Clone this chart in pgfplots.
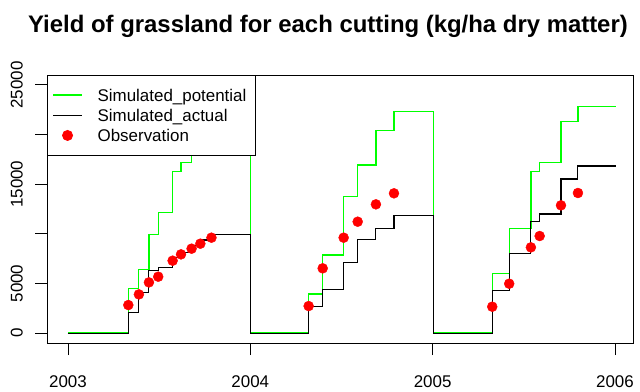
\documentclass[border=0pt]{standalone}
\usepackage{pgfplots}
\pgfplotsset{compat=1.18}
\usepackage{fontspec}
\setmainfont{Liberation Sans}
\definecolor{rgreen}{rgb}{0,1,0}
\definecolor{rred}{rgb}{1,0,0}
\pgfplotsset{
  mylineleg/.style={legend image code/.code={\draw[##1] (0bp,0bp) -- (29bp,0bp);}},
  mymarkleg/.style={legend image code/.code={\draw[##1] plot coordinates {(14.5bp,0bp)};}},
}
\begin{document}
\begin{tikzpicture}
\begin{axis}[
  scale only axis,
  width=586bp, height=268bp,
  xmin=2002.885, xmax=2006.099,
  ymin=-1000, ymax=26000,
  scaled x ticks=false, scaled y ticks=false,
  xtick={2003,2004,2005,2006},
  xticklabels={2003,2004,2005,2006},
  ytick={0,5000,10000,15000,20000,25000},
  yticklabels={0,5000,,15000,,25000},
  xtick pos=bottom, ytick pos=left,
  tick align=outside,
  major tick length=12bp,
  tick style={black, line width=0.9bp},
  axis line style={black, line width=0.9bp},
  /pgf/number format/assume math mode=true,
  ticklabel style={font=\fontsize{17}{20}\selectfont},
  xticklabel style={anchor=north, inner sep=0pt, yshift=-20.6bp},
  yticklabel style={rotate=90, anchor=south, inner sep=0pt},
  yticklabel shift=12bp,
  legend style={at={(0,1)}, anchor=north west, draw=black, line width=0.9bp,
    inner xsep=5bp, inner ysep=9.5bp, column sep=15bp, row sep=0pt,
    font=\fontsize{17}{20}\selectfont,
    nodes={inner xsep=0pt, inner ysep=4bp, text height=12.2bp, text depth=0pt, text width=153bp, line width=0.9bp}},
  legend cell align=left,
]
\addplot[const plot mark left, rgreen, line width=1.2bp, mylineleg] coordinates {
(2003,0)
(2003.331,4506)
(2003.389,6421)
(2003.444,9910)
(2003.495,12167)
(2003.574,16260)
(2003.620,17167)
(2003.678,19385)
(2003.724,20393)
(2003.788,21440)
(2004.000,0)
(2004.320,3931)
(2004.397,7863)
(2004.512,13740)
(2004.589,16935)
(2004.689,20393)
(2004.788,22349)
(2005.004,0)
(2005.327,6015)
(2005.420,10554)
(2005.539,16297)
(2005.587,17200)
(2005.704,21340)
(2005.797,22850)
(2006.005,22850)
};
\addlegendentry{Simulated\_potential}
\addplot[const plot mark left, black, line width=1.1bp, mylineleg] coordinates {
(2003,0)
(2003.331,2084)
(2003.389,4103)
(2003.444,6280)
(2003.495,6623)
(2003.574,7631)
(2003.620,8095)
(2003.678,8800)
(2003.724,9375)
(2003.788,9910)
(2004.000,0)
(2004.320,2722)
(2004.397,4435)
(2004.512,7127)
(2004.589,9405)
(2004.689,10554)
(2004.788,11825)
(2005.004,0)
(2005.327,4267)
(2005.420,7998)
(2005.539,11220)
(2005.587,11996)
(2005.704,15524)
(2005.797,16835)
(2006.005,16835)
};
\addlegendentry{Simulated\_actual}
\addplot[only marks, mark=*, mark size=5bp, rred, mark options={draw=rred, fill=rred}, mymarkleg] coordinates {
(2003.331,2823)(2003.389,3897)(2003.444,5107)(2003.495,5679)(2003.574,7292)
(2003.620,7930)(2003.678,8502)(2003.726,9005)(2003.787,9610)
(2004.320,2722)(2004.397,6522)(2004.512,9610)(2004.589,11220)(2004.689,12970)(2004.788,14080)
(2005.327,2655)(2005.420,4973)(2005.539,8636)(2005.587,9778)(2005.704,12870)(2005.797,14113)
};
\addlegendentry{Observation}
\end{axis}
\node[anchor=base, inner sep=0pt, font=\fontsize{24}{28}\selectfont\bfseries] at ([xshift=281bp, yshift=310bp]current axis.south west) {Yield of grassland for each cutting (kg/ha dry matter)};
\pgfresetboundingbox
\path (current axis.south west) ++(-47bp,-49bp) rectangle ++(640bp,392bp);
\end{tikzpicture}
\end{document}
